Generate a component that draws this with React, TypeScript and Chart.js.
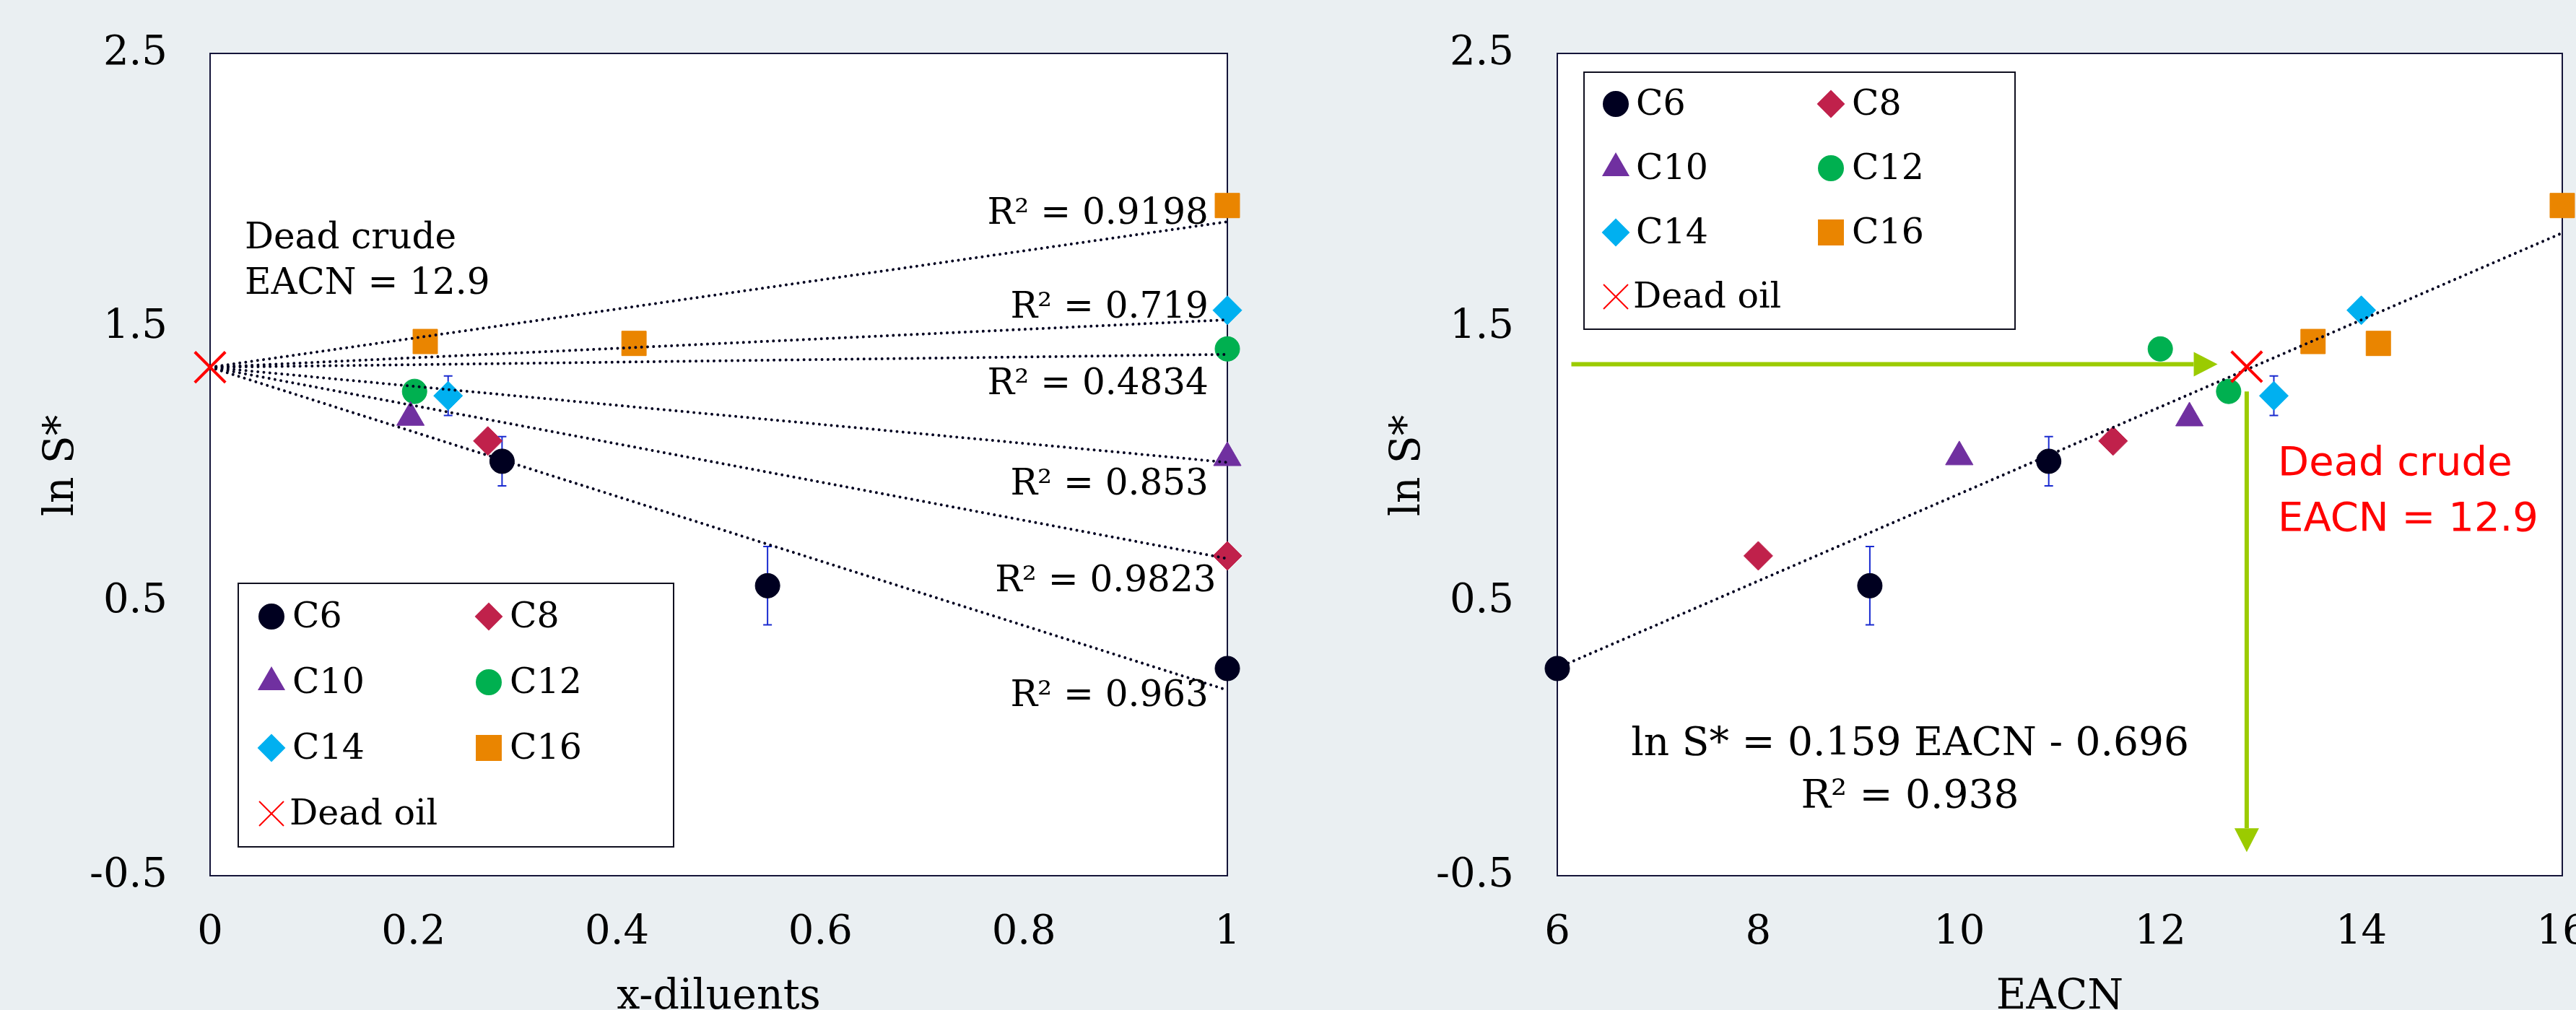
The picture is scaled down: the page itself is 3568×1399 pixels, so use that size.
import React, { useEffect, useRef } from 'react';
import { Chart, registerables } from 'chart.js';
import { drawPoint } from 'chart.js/helpers';

Chart.register(...registerables);

// ---------------- data ----------------
const seriesNames = ['C6', 'C8', 'C10', 'C12', 'C14', 'C16'];
const deadOilName = 'Dead oil';

const xTicksLeft = [0, 0.2, 0.4, 0.6, 0.8, 1];
const xTicksRight = [6, 8, 10, 12, 14, 16];
const yTicks = [-0.5, 0.5, 1.5, 2.5];

// Left panel: ln S* vs x-diluents
const c6Dil = [0.287, 0.548, 1.0];
const c6LnS = [1.012, 0.558, 0.256];
const c6Err = [0.09, 0.143, 0];
const c8Dil = [0.273, 1.0];
const c8LnS = [1.086, 0.667];
const c10Dil = [0.197, 1.0];
const c10LnS = [1.172, 1.025];
const c12Dil = [0.201, 1.0];
const c12LnS = [1.267, 1.422];
const c14Dil = [0.234, 1.0];
const c14LnS = [1.251, 1.563];
const c14Err = [0.072, 0];
const c16Dil = [0.2115, 0.4167, 1.0];
const c16LnS = [1.449, 1.442, 1.945];
const deadOilDil = [0];
const deadOilLnS = [1.355];
const trendDil = [0, 1];
const trendEndLnS = [0.177, 0.657, 1.008, 1.402, 1.528, 1.886];
const r2Values = ['0.963', '0.9823', '0.853', '0.4834', '0.719', '0.9198'];

// Right panel: ln S* vs EACN
const c6Eacn = [6, 9.11, 10.89];
const c6LnSR = [0.256, 0.558, 1.012];
const c6ErrR = [0, 0.143, 0.09];
const c8Eacn = [8, 11.53];
const c8LnSR = [0.667, 1.086];
const c10Eacn = [10, 12.29];
const c10LnSR = [1.028, 1.17];
const c12Eacn = [12, 12.68];
const c12LnSR = [1.422, 1.267];
const c14Eacn = [14, 13.13];
const c14LnSR = [1.563, 1.251];
const c14ErrR = [0, 0.072];
const c16Eacn = [16, 13.52, 14.17];
const c16LnSR = [1.945, 1.449, 1.442];
const deadOilEacn = [12.86];
const deadOilLnSR = [1.357];
const fitEacn = [6, 16];
const fitLnS = [0.258, 1.845];
const fitEquation = 'ln S* = 0.159 EACN - 0.696';
const fitR2 = '0.938';
const deadCrudeEacn = '12.9';

// ---------------- styles / layout ----------------
const W = 3568;
const H = 1399;
const BG = '#EAEFF2';
const SERIF = "'DejaVu Serif', 'Liberation Serif', serif";
const SANS = "'DejaVu Sans', Verdana, sans-serif";
const seriesColors = ['#000020', '#C0214B', '#7030A0', '#00B050', '#00B0F0', '#EA8500'];
const seriesStyles = ['circle', 'rectRot', 'triangle', 'circle', 'rectRot', 'rect'];
const seriesRadius = [17, 20, 22, 17, 20, 24];
const legendRadius = [17, 18, 20, 17, 18, 24];
const GREEN = '#9BCB00';
const ERR_BLUE = '#1A2BD0';

type Pt = { x: number; y: number };
const zip = (xs: number[], ys: number[]): Pt[] => xs.map((x, i) => ({ x, y: ys[i] }));

function markerDataset(label: string, i: number, xs: number[], ys: number[], errs?: number[]) {
  return {
    label,
    data: zip(xs, ys),
    pointStyle: seriesStyles[i],
    pointRadius: seriesRadius[i],
    pointBackgroundColor: seriesColors[i],
    pointBorderColor: seriesColors[i],
    pointBorderWidth: 1,
    showLine: false,
    clip: false,
    order: 1,
    errorBars: errs,
  } as any;
}

function deadOilDataset(xs: number[], ys: number[]) {
  return {
    label: deadOilName,
    data: zip(xs, ys),
    pointStyle: 'crossRot',
    pointRadius: 30,
    pointBorderWidth: 4,
    pointBorderColor: '#FF0000',
    pointBackgroundColor: '#FF0000',
    showLine: false,
    clip: false,
    order: -2,
  } as any;
}

function trendDataset(xs: number[], ys: number[]) {
  return {
    label: 'trend',
    data: zip(xs, ys),
    showLine: true,
    pointRadius: 0,
    borderColor: '#000020',
    borderWidth: 4,
    borderDash: [0.01, 8.3],
    borderCapStyle: 'round',
    fill: false,
    clip: false,
    order: -1,
  } as any;
}

function txt(ctx: CanvasRenderingContext2D, s: string, x: number, y: number, font: string, color: string, align: CanvasTextAlign, baseline: CanvasTextBaseline = 'alphabetic') {
  ctx.save();
  ctx.font = font;
  ctx.fillStyle = color;
  ctx.textAlign = align;
  ctx.textBaseline = baseline;
  ctx.fillText(s, x, y);
  ctx.restore();
}

function drawLegend(ctx: CanvasRenderingContext2D, a: any, box: any) {
  const x0 = a.left + box.x;
  const y0 = a.top + box.y;
  ctx.save();
  ctx.fillStyle = '#FFFFFF';
  ctx.fillRect(x0, y0, box.w, box.h);
  ctx.strokeStyle = '#101020';
  ctx.lineWidth = 2;
  ctx.strokeRect(x0, y0, box.w, box.h);
  const font = `49px ${SERIF}`;
  seriesNames.forEach((name, i) => {
    const col = i % 2;
    const row = Math.floor(i / 2);
    const mx = x0 + (col === 0 ? box.m1 : box.m2);
    const tx = x0 + (col === 0 ? box.t1 : box.t2);
    const cy = y0 + box.r0 + row * box.dr;
    ctx.fillStyle = seriesColors[i];
    ctx.strokeStyle = seriesColors[i];
    drawPoint(ctx, { pointStyle: seriesStyles[i] as any, radius: legendRadius[i], borderWidth: 1, rotation: 0 } as any, mx, cy);
    txt(ctx, name, tx, cy + 2, font, '#000', 'left', 'middle');
  });
  const cy = y0 + box.r0 + 3 * box.dr;
  ctx.strokeStyle = '#FF0000';
  ctx.fillStyle = '#FF0000';
  drawPoint(ctx, { pointStyle: 'crossRot', radius: 24, borderWidth: 2.5, rotation: 0 } as any, x0 + box.m1, cy);
  txt(ctx, deadOilName, x0 + box.t1 - 4, cy + 2, font, '#000', 'left', 'middle');
  ctx.restore();
}

function arrow(ctx: CanvasRenderingContext2D, x1: number, y1: number, x2: number, y2: number) {
  const len = Math.hypot(x2 - x1, y2 - y1);
  const ux = (x2 - x1) / len;
  const uy = (y2 - y1) / len;
  const head = 33;
  const hw = 17;
  const bx = x2 - ux * head;
  const by = y2 - uy * head;
  ctx.save();
  ctx.strokeStyle = GREEN;
  ctx.fillStyle = GREEN;
  ctx.lineWidth = 6;
  ctx.beginPath();
  ctx.moveTo(x1, y1);
  ctx.lineTo(bx, by);
  ctx.stroke();
  ctx.beginPath();
  ctx.moveTo(x2, y2);
  ctx.lineTo(bx - uy * hw, by + ux * hw);
  ctx.lineTo(bx + uy * hw, by - ux * hw);
  ctx.closePath();
  ctx.fill();
  ctx.restore();
}

function panelPlugin(p: any) {
  return {
    id: 'panel_' + p.id,
    beforeDraw(chart: any) {
      const { ctx, chartArea: a } = chart;
      ctx.save();
      ctx.fillStyle = BG;
      ctx.fillRect(0, 0, chart.width, chart.height);
      ctx.fillStyle = '#FFFFFF';
      ctx.fillRect(a.left, a.top, a.right - a.left, a.bottom - a.top);
      ctx.restore();
    },
    beforeDatasetsDraw(chart: any) {
      const { ctx, chartArea: a, scales } = chart;
      ctx.save();
      ctx.strokeStyle = '#15153A';
      ctx.lineWidth = 2;
      ctx.strokeRect(a.left, a.top, a.right - a.left, a.bottom - a.top);
      // error bars
      ctx.strokeStyle = ERR_BLUE;
      ctx.lineWidth = 2;
      chart.data.datasets.forEach((ds: any) => {
        if (!ds.errorBars) return;
        ds.data.forEach((pt: Pt, j: number) => {
          const e = ds.errorBars[j];
          if (!e) return;
          const px = scales.x.getPixelForValue(pt.x);
          const yt = scales.y.getPixelForValue(pt.y + e);
          const yb = scales.y.getPixelForValue(pt.y - e);
          ctx.beginPath();
          ctx.moveTo(px, yt);
          ctx.lineTo(px, yb);
          ctx.moveTo(px - 6, yt);
          ctx.lineTo(px + 6, yt);
          ctx.moveTo(px - 6, yb);
          ctx.lineTo(px + 6, yb);
          ctx.stroke();
        });
      });
      ctx.restore();
    },
    afterDraw(chart: any) {
      const { ctx, chartArea: a } = chart;
      // axis titles
      txt(ctx, p.xTitle, (a.left + a.right) / 2, 1397, `57px ${SERIF}`, '#000', 'center');
      ctx.save();
      ctx.translate(p.yTitleX, 645);
      ctx.rotate(-Math.PI / 2);
      txt(ctx, 'ln S*', 0, 0, `57px ${SERIF}`, '#000', 'center');
      ctx.restore();
      p.draw(chart);
    },
  };
}

function zeroPad(s: any) {
  s.paddingTop = 0;
  s.paddingBottom = 0;
  s.paddingLeft = 0;
  s.paddingRight = 0;
}

function buildConfig(p: any) {
  const tickFont = { family: SERIF, size: 56 };
  return {
    type: 'scatter',
    data: { datasets: p.datasets },
    options: {
      responsive: false,
      animation: false,
      devicePixelRatio: 1,
      events: [],
      layout: { padding: { left: 0, top: p.area.top, right: p.canvasW - p.area.right, bottom: 0 } },
      plugins: { legend: { display: false }, tooltip: { enabled: false } },
      scales: {
        x: {
          type: 'linear',
          min: p.xTicks[0],
          max: p.xTicks[p.xTicks.length - 1],
          afterBuildTicks: (s: any) => { s.ticks = p.xTicks.map((v: number) => ({ value: v })); },
          afterFit: (s: any) => { s.height = H - p.area.bottom; zeroPad(s); },
          grid: { display: false, drawTicks: false },
          border: { display: false },
          ticks: { padding: 46, color: '#000', font: tickFont, maxRotation: 0, autoSkip: false, callback: (v: any) => String(v) },
        },
        y: {
          type: 'linear',
          min: yTicks[0],
          max: yTicks[yTicks.length - 1],
          afterBuildTicks: (s: any) => { s.ticks = yTicks.map((v) => ({ value: v })); },
          afterFit: (s: any) => { s.width = p.area.left; zeroPad(s); },
          grid: { display: false, drawTicks: false },
          border: { display: false },
          ticks: { padding: p.yTickPad, color: '#000', font: tickFont, autoSkip: false, callback: (v: any) => String(v) },
        },
      },
    },
    plugins: [panelPlugin(p)],
  } as any;
}

// annotation anchors (data coordinates)
const r2LabelX = [0.9815, 0.989, 0.9815, 0.9815, 0.9815, 0.9815];
const r2LabelY = [0.118, 0.537, 0.891, 1.258, 1.536, 1.878];

const leftPanel = {
  id: 'left',
  canvasW: 1784,
  canvasLeft: 0,
  area: { left: 291, right: 1700, top: 74, bottom: 1213 },
  yTickPad: 59,
  xTicks: xTicksLeft,
  xTitle: 'x-diluents',
  yTitleX: 101,
  datasets: [
    ...seriesNames.map((_, i) => trendDataset(trendDil, [deadOilLnS[0], trendEndLnS[i]])),
    deadOilDataset(deadOilDil, deadOilLnS),
    markerDataset('C6', 0, c6Dil, c6LnS, c6Err),
    markerDataset('C8', 1, c8Dil, c8LnS),
    markerDataset('C10', 2, c10Dil, c10LnS),
    markerDataset('C12', 3, c12Dil, c12LnS),
    markerDataset('C14', 4, c14Dil, c14LnS, c14Err),
    markerDataset('C16', 5, c16Dil, c16LnS),
  ],
  draw(chart: any) {
    const { ctx, chartArea: a, scales: { x, y } } = chart;
    r2Values.forEach((v, i) => {
      txt(ctx, 'R\u00B2 = ' + v, x.getPixelForValue(r2LabelX[i]), y.getPixelForValue(r2LabelY[i]), `50px ${SERIF}`, '#000', 'right');
    });
    txt(ctx, 'Dead crude', x.getPixelForValue(0.034), y.getPixelForValue(1.789), `50px ${SERIF}`, '#000', 'left');
    txt(ctx, 'EACN = ' + deadCrudeEacn, x.getPixelForValue(0.034), y.getPixelForValue(1.623), `50px ${SERIF}`, '#000', 'left');
    drawLegend(ctx, a, { x: 39, y: 734, w: 603, h: 365, m1: 46, t1: 75, m2: 347, t2: 376, r0: 46, dr: 91 });
  },
};

const rightPanel = {
  id: 'right',
  canvasW: 1850,
  canvasLeft: 1784,
  area: { left: 373, right: 1765, top: 74, bottom: 1213 },
  yTickPad: 60,
  xTicks: xTicksRight,
  xTitle: 'EACN',
  yTitleX: 182,
  datasets: [
    trendDataset(fitEacn, fitLnS),
    deadOilDataset(deadOilEacn, deadOilLnSR),
    markerDataset('C6', 0, c6Eacn, c6LnSR, c6ErrR),
    markerDataset('C8', 1, c8Eacn, c8LnSR),
    markerDataset('C10', 2, c10Eacn, c10LnSR),
    markerDataset('C12', 3, c12Eacn, c12LnSR),
    markerDataset('C14', 4, c14Eacn, c14LnSR, c14ErrR),
    markerDataset('C16', 5, c16Eacn, c16LnSR),
  ],
  draw(chart: any) {
    const { ctx, chartArea: a, scales: { x, y } } = chart;
    arrow(ctx, x.getPixelForValue(6.14), y.getPixelForValue(1.366), x.getPixelForValue(12.57), y.getPixelForValue(1.366));
    arrow(ctx, x.getPixelForValue(12.86), y.getPixelForValue(1.267), x.getPixelForValue(12.86), y.getPixelForValue(-0.414));
    txt(ctx, 'Dead crude', x.getPixelForValue(13.17), y.getPixelForValue(0.962), `56px ${SANS}`, '#FF0000', 'left');
    txt(ctx, 'EACN = ' + deadCrudeEacn, x.getPixelForValue(13.17), y.getPixelForValue(0.759), `56px ${SANS}`, '#FF0000', 'left');
    txt(ctx, fitEquation, x.getPixelForValue(9.51), y.getPixelForValue(-0.059), `55px ${SERIF}`, '#000', 'center');
    txt(ctx, 'R\u00B2 = ' + fitR2, x.getPixelForValue(9.51), y.getPixelForValue(-0.252), `55px ${SERIF}`, '#000', 'center');
    drawLegend(ctx, a, { x: 37, y: 26, w: 597, h: 356, m1: 44, t1: 72, m2: 342, t2: 371, r0: 44, dr: 89 });
  },
};

function Panel({ spec }: { spec: any }) {
  const ref = useRef<HTMLCanvasElement>(null);
  useEffect(() => {
    const chart = new Chart(ref.current as HTMLCanvasElement, buildConfig(spec));
    return () => chart.destroy();
  }, []);
  return (
    <canvas
      ref={ref}
      width={spec.canvasW}
      height={H}
      style={{ position: 'absolute', left: spec.canvasLeft, top: 0, width: spec.canvasW, height: H, display: 'block' }}
    />
  );
}

export default function App() {
  return (
    <div style={{ position: 'fixed', left: 0, top: 0, width: W, height: H, overflow: 'hidden', background: BG }}>
      <Panel spec={leftPanel} />
      <Panel spec={rightPanel} />
    </div>
  );
}
